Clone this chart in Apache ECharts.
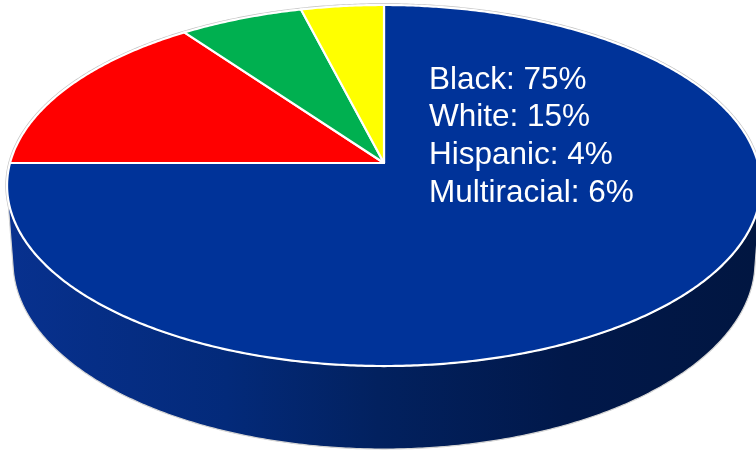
<!DOCTYPE html>
<html><head><meta charset="utf-8">
<script src="https://cdn.jsdelivr.net/npm/echarts@6/dist/echarts.min.js"></script>
<style>html,body{margin:0;padding:0;background:#fff}#c{width:756px;height:451px}</style>
</head><body><div id="c"></div>
<script>
// ---- data ----
const categories = ['Black', 'White', 'Multiracial', 'Hispanic'];
const values = [75, 15, 6, 4];
const sliceColors = ['#003399', '#FF0000', '#00B050', '#FFFF00'];
const labelOrder = ['Black', 'White', 'Hispanic', 'Multiracial'];

// ---- 3D perspective projection of the pie ----
const PX = 384, PY = 163, F = 2639, D0 = 7.056, T = 28.37 * Math.PI / 180, H = 0.2345;
const sinT = Math.sin(T), cosT = Math.cos(T);
function proj(u, v, yw) {
  const depth = D0 - yw * sinT - v * cosT;
  const yc = yw * cosT - v * sinT;
  return [PX + F * u / depth, PY - F * yc / depth];
}
function pt(theta, yw) { return proj(Math.sin(theta), -Math.cos(theta), yw); }
const total = values.reduce((a, b) => a + b, 0);
const vs = 1 / (D0 * cosT);
const visA = Math.acos(-vs), visB = 2 * Math.PI - visA;
const STEP = Math.PI / 360;

const sideGradient = {
  type: 'linear', x: 0, y: 0, x2: 756, y2: 0, global: true,
  colorStops: [
    { offset: 0, color: '#08318f' },
    { offset: 0.3, color: '#032a7a' },
    { offset: 0.5, color: '#02215f' },
    { offset: 0.75, color: '#01184a' },
    { offset: 1, color: '#011641' }
  ]
};

function arc(a0, a1, yw) {
  const n = Math.max(2, Math.ceil(Math.abs(a1 - a0) / STEP));
  const out = [];
  for (let j = 0; j <= n; j++) out.push(pt(a0 + (a1 - a0) * j / n, yw));
  return out;
}

function renderItem(params, api) {
  const i = params.dataIndex;
  let start = 0;
  for (let k = 0; k < i; k++) start += values[k];
  const a0 = start / total * 2 * Math.PI;
  const a1 = (start + api.value(0)) / total * 2 * Math.PI;
  const children = [];
  if (i === 0) {
    children.push({
      type: 'polygon', shape: { points: arc(0, 2 * Math.PI, 0) },
      style: { fill: 'none', stroke: '#c4c4c4', lineWidth: 3.5 }, z2: 0, silent: true
    });
  }
  const top = [[PX, PY]].concat(arc(a0, a1, 0));
  children.push({
    type: 'polygon', shape: { points: top },
    style: { fill: api.visual('color'), stroke: '#ffffff', lineWidth: 2.2, lineJoin: 'round' }, z2: 3
  });
  const s0 = Math.max(a0, visA), s1 = Math.min(a1, visB);
  if (s1 > s0) {
    const side = arc(s0, s1, 0).concat(arc(s1, s0, -H));
    children.push({
      type: 'polygon', shape: { points: side },
      style: { fill: sideGradient, stroke: '#d4d4d4', lineWidth: 1.2 }, z2: 1
    });
  }
  return { type: 'group', children };
}

const chart = echarts.init(document.getElementById('c'), null, { renderer: 'canvas' });
chart.setOption({
  animation: false,
  backgroundColor: '#ffffff',
  title: {
    text: labelOrder.map(n => n + ': ' + values[categories.indexOf(n)] + '%').join('\n'),
    left: 429, top: 61, padding: 0,
    textStyle: { color: '#ffffff', fontSize: 31.5, fontWeight: 'normal', fontFamily: 'Liberation Sans, Arial, sans-serif', lineHeight: 37.7 }
  },
  series: [{
    type: 'custom',
    coordinateSystem: 'none',
    renderItem: renderItem,
    data: categories.map((c, i) => ({ name: c, value: [values[i]], itemStyle: { color: sliceColors[i] } }))
  }]
});
</script></body></html>
